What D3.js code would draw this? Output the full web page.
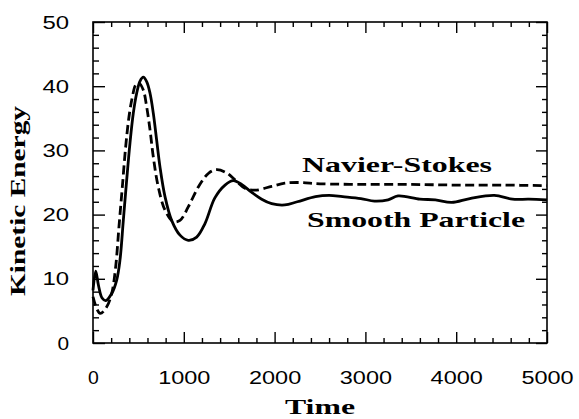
<!DOCTYPE html>
<html>
<head>
<meta charset="utf-8">
<script src="https://cdn.jsdelivr.net/npm/d3@7"></script>
<style>
  html, body { margin: 0; padding: 0; background: #fff; }
  svg { display: block; }
</style>
</head>
<body>
<svg id="chart" width="579" height="419"></svg>
<script>
// ---- data ----
const xTickValues = [0, 1000, 2000, 3000, 4000, 5000];
const yTickValues = [0, 10, 20, 30, 40, 50];
const xTitle = "Time";
const yTitle = "Kinetic Energy";
const seriesNames = ["Navier-Stokes", "Smooth Particle"];

// Navier-Stokes (dashed)
const nsTime = [0, 40, 80, 150, 206, 250, 286, 323, 360, 396, 433, 470, 506, 554, 591, 628, 664, 719, 793, 884, 958, 1049, 1160, 1270, 1360, 1472, 1564, 1674, 1784, 1968, 2112, 2277, 2500, 3000, 3500, 4000, 4500, 5000];
const nsKE   = [7.2, 5.4, 4.6, 5.6, 7.7, 11.9, 18.1, 24.3, 30.6, 35.2, 38.3, 40.2, 40.5, 39.4, 36.8, 33.2, 29.0, 24.3, 20.7, 18.9, 19.1, 21.2, 24.3, 26.4, 27.0, 26.5, 25.4, 24.1, 23.8, 24.4, 24.9, 25.0, 24.8, 24.7, 24.7, 24.6, 24.6, 24.5];

// Smooth Particle (solid)
const spTime = [0, 30, 60, 100, 140, 206, 261, 297, 334, 371, 407, 444, 481, 518, 554, 591, 628, 664, 701, 738, 793, 866, 958, 1049, 1142, 1233, 1342, 1454, 1545, 1637, 1745, 1858, 1968, 2112, 2250, 2450, 2600, 2750, 2950, 3100, 3250, 3360, 3600, 3770, 3950, 4150, 4420, 4620, 4800, 5000];
const spKE   = [8.2, 11.2, 9.0, 7.0, 6.6, 7.7, 9.8, 12.9, 19.1, 25.4, 31.1, 35.8, 38.9, 40.8, 41.4, 40.7, 38.9, 35.8, 31.6, 27.4, 22.8, 19.1, 16.8, 16.0, 16.5, 18.6, 22.6, 24.6, 25.3, 24.7, 23.5, 22.4, 21.7, 21.5, 22.0, 22.8, 23.0, 22.8, 22.5, 22.1, 22.3, 22.9, 22.4, 22.3, 21.9, 22.5, 23.0, 22.4, 22.4, 22.3];

// ---- layout ----
const mLeft = 93, mRight = 547, mTop = 22, mBottom = 343;
const svg = d3.select("#chart");

const x = d3.scaleLinear().domain([0, 5000]).range([mLeft, mRight]);
const y = d3.scaleLinear().domain([0, 50]).range([mBottom, mTop]);

const minorX = d3.range(0, 5001, 200).filter(v => v % 1000 !== 0);
const minorY = d3.range(0, 51, 2).filter(v => v % 10 !== 0);

function styleAxis(g) {
  g.select(".domain").remove();
  g.selectAll(".tick line").attr("stroke", "#000").attr("stroke-width", 1.4);
}

// minor ticks (inward), all four sides
svg.append("g").attr("transform", `translate(0,${mBottom})`)
  .call(d3.axisBottom(x).tickValues(minorX).tickSize(-5).tickFormat(""))
  .call(styleAxis);
svg.append("g").attr("transform", `translate(0,${mTop})`)
  .call(d3.axisTop(x).tickValues(minorX).tickSize(-5).tickFormat(""))
  .call(styleAxis);
svg.append("g").attr("transform", `translate(${mLeft},0)`)
  .call(d3.axisLeft(y).tickValues(minorY).tickSize(-6).tickFormat(""))
  .call(styleAxis);
svg.append("g").attr("transform", `translate(${mRight},0)`)
  .call(d3.axisRight(y).tickValues(minorY).tickSize(-5).tickFormat(""))
  .call(styleAxis);

// major ticks
const xb = svg.append("g").attr("transform", `translate(0,${mBottom})`)
  .call(d3.axisBottom(x).tickValues(xTickValues).tickSize(-11).tickPadding(0).tickFormat(d3.format("d")))
  .call(styleAxis);
svg.append("g").attr("transform", `translate(0,${mTop})`)
  .call(d3.axisTop(x).tickValues(xTickValues).tickSize(-11).tickFormat(""))
  .call(styleAxis);
const yl = svg.append("g").attr("transform", `translate(${mLeft},0)`)
  .call(d3.axisLeft(y).tickValues(yTickValues).tickSize(-12).tickFormat(d3.format("d")))
  .call(styleAxis);
svg.append("g").attr("transform", `translate(${mRight},0)`)
  .call(d3.axisRight(y).tickValues(yTickValues).tickSize(-11).tickFormat(""))
  .call(styleAxis);

// tick label styling
xb.selectAll(".tick text")
  .attr("y", 0).attr("dy", 0)
  .attr("transform", `translate(0,${384 - mBottom})`)
  .attr("fill", "#000")
  .style("font-family", "'Liberation Sans', Arial, sans-serif")
  .style("font-size", "18px")
  .attr("text-anchor", "middle")
  .attr("lengthAdjust", "spacingAndGlyphs")
  .attr("textLength", function() { const n = this.textContent.length; return 13.8 * n - 3; });

yl.selectAll(".tick text")
  .attr("x", 0).attr("dy", 0)
  .attr("transform", `translate(${69 - mLeft},6)`)
  .attr("fill", "#000")
  .style("font-family", "'Liberation Sans', Arial, sans-serif")
  .style("font-size", "17.5px")
  .attr("text-anchor", "end")
  .attr("lengthAdjust", "spacingAndGlyphs")
  .attr("textLength", function() { const n = this.textContent.length; return 15 * n - 3.4; });

// frame
svg.append("rect")
  .attr("x", mLeft).attr("y", mTop)
  .attr("width", mRight - mLeft).attr("height", mBottom - mTop)
  .attr("fill", "none").attr("stroke", "#000").attr("stroke-width", 1.6);

// curves
const line = d3.line().curve(d3.curveCatmullRom.alpha(0.5));
const nsPts = nsTime.map((t, i) => [x(t), y(nsKE[i])]);
const spPts = spTime.map((t, i) => [x(t), y(spKE[i])]);

svg.append("path")
  .attr("d", line(nsPts))
  .attr("fill", "none").attr("stroke", "#000")
  .attr("stroke-width", 2.8)
  .attr("stroke-dasharray", "9,4.5");

svg.append("path")
  .attr("d", line(spPts))
  .attr("fill", "none").attr("stroke", "#000")
  .attr("stroke-width", 2.8)
  .attr("stroke-linejoin", "round");

// labels
const serif = "'Liberation Serif', 'Times New Roman', serif";
svg.append("text")
  .attr("x", 302).attr("y", 171.5)
  .style("font-family", serif).style("font-weight", "bold").style("font-size", "21px")
  .attr("lengthAdjust", "spacingAndGlyphs").attr("textLength", 190)
  .text(seriesNames[0]);
svg.append("text")
  .attr("x", 307).attr("y", 227)
  .style("font-family", serif).style("font-weight", "bold").style("font-size", "21px")
  .attr("lengthAdjust", "spacingAndGlyphs").attr("textLength", 218)
  .text(seriesNames[1]);

svg.append("text")
  .attr("x", 320).attr("y", 414)
  .attr("text-anchor", "middle")
  .style("font-family", serif).style("font-weight", "bold").style("font-size", "21px")
  .attr("lengthAdjust", "spacingAndGlyphs").attr("textLength", 70)
  .text(xTitle);

svg.append("text")
  .attr("transform", "translate(25,201) rotate(-90)")
  .attr("text-anchor", "middle")
  .style("font-family", serif).style("font-weight", "bold").style("font-size", "22px")
  .attr("lengthAdjust", "spacingAndGlyphs").attr("textLength", 190)
  .text(yTitle);
</script>
</body>
</html>
